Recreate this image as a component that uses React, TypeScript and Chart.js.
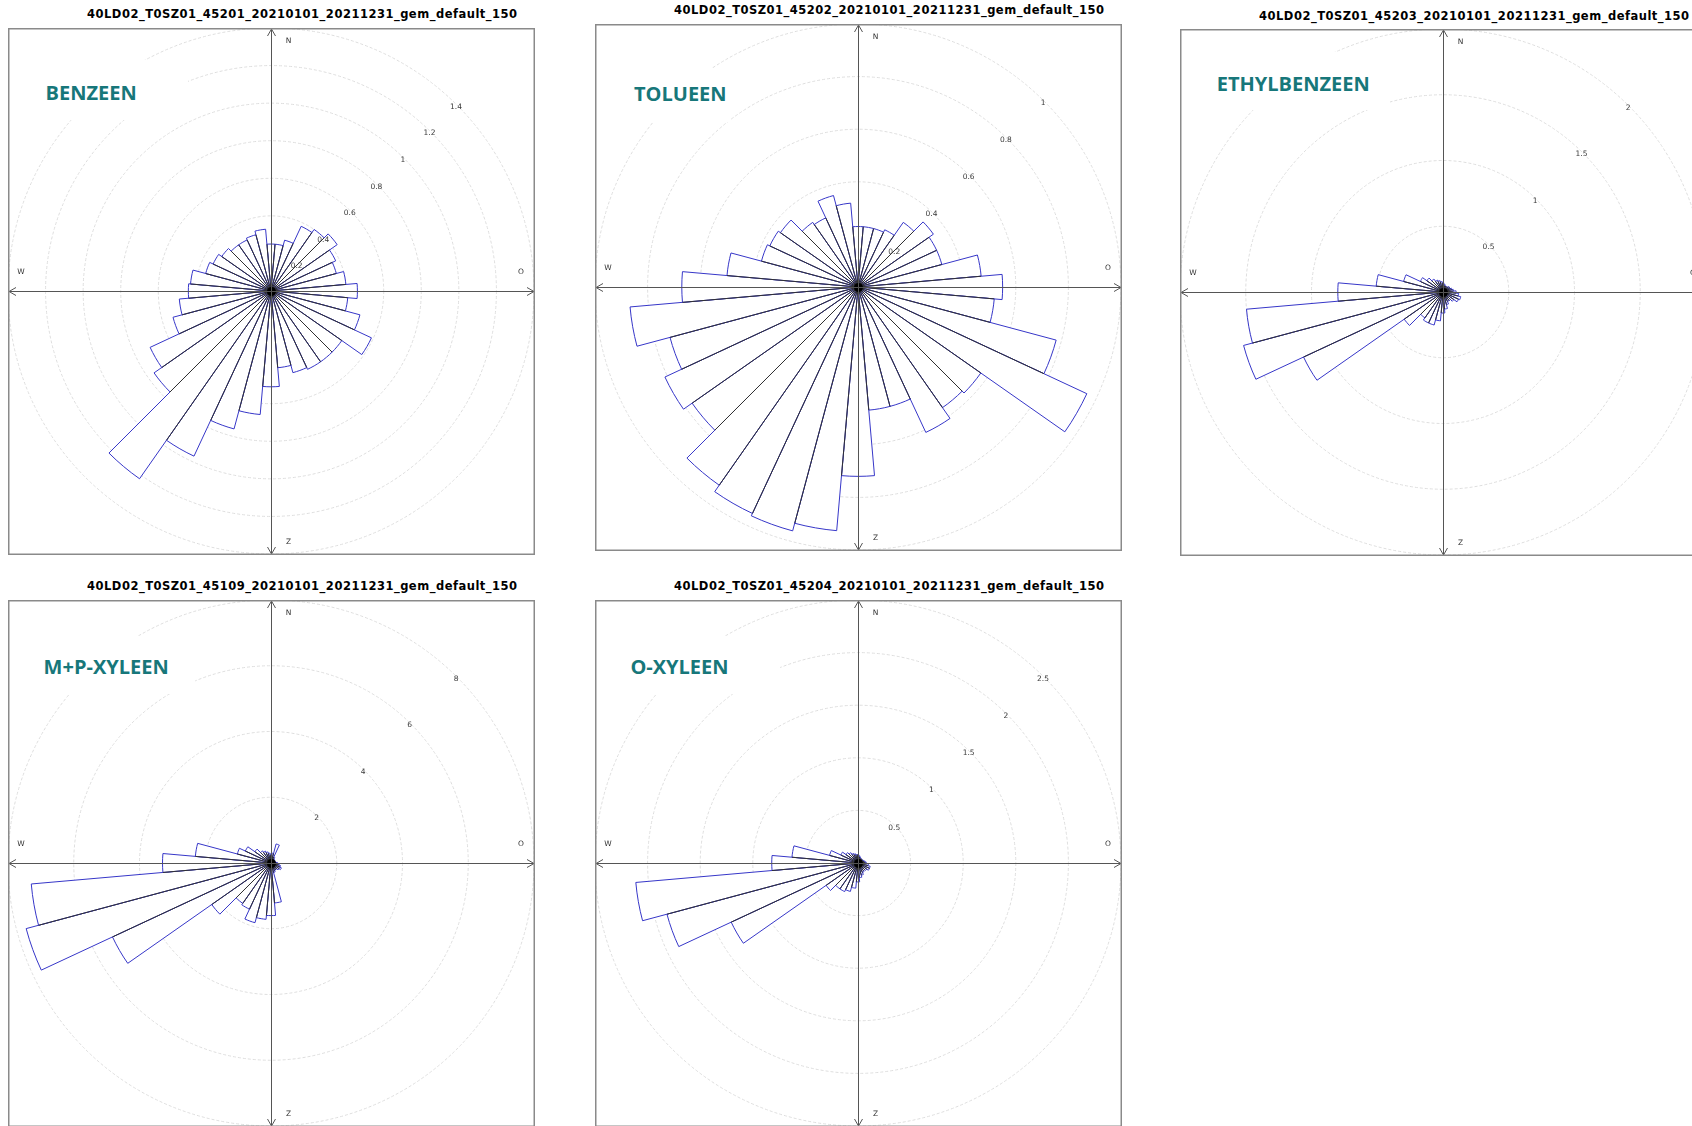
import React, { useEffect, useRef } from 'react';
import { Chart, registerables } from 'chart.js';

Chart.register(...registerables);

// Wind direction sectors, degrees clockwise from north, each 10° wide
const directions = [
  '0', '10', '20', '30', '40', '50', '60', '70', '80', '90',
  '100', '110', '120', '130', '140', '150', '160', '170', '180', '190',
  '200', '210', '220', '230', '240', '250', '260', '270', '280', '290',
  '300', '310', '320', '330', '340', '350',
];

// Mean concentration per wind sector
const benzeen = [
  0.25, 0.25, 0.28, 0.38, 0.40, 0.43, 0.38, 0.36, 0.40, 0.46,
  0.41, 0.49, 0.59, 0.46, 0.46, 0.46, 0.45, 0.41, 0.51, 0.66,
  0.76, 0.97, 1.22, 0.76, 0.71, 0.54, 0.49, 0.44, 0.43, 0.36,
  0.34, 0.32, 0.30, 0.30, 0.31, 0.33,
];
const tolueen = [
  0.23, 0.23, 0.23, 0.24, 0.30, 0.35, 0.33, 0.33, 0.47, 0.55,
  0.52, 0.78, 0.96, 0.57, 0.56, 0.61, 0.47, 0.47, 0.72, 0.93,
  0.96, 0.95, 0.92, 0.77, 0.81, 0.74, 0.87, 0.67, 0.50, 0.38,
  0.37, 0.36, 0.30, 0.29, 0.36, 0.32,
];
const ethylbenzeen = [
  0.07, 0.06, 0.05, 0.05, 0.05, 0.06, 0.06, 0.07, 0.08, 0.10,
  0.12, 0.14, 0.13, 0.10, 0.08, 0.08, 0.10, 0.13, 0.16, 0.22,
  0.26, 0.26, 0.24, 0.36, 1.17, 1.57, 1.50, 0.80, 0.51, 0.31,
  0.19, 0.15, 0.12, 0.10, 0.09, 0.08,
];
const mpXyleen = [
  0.25, 0.30, 0.60, 0.20, 0.15, 0.12, 0.12, 0.12, 0.15, 0.20,
  0.25, 0.30, 0.35, 0.30, 0.25, 0.25, 0.30, 1.22, 1.60, 1.72,
  1.88, 1.55, 1.50, 2.20, 5.32, 7.71, 7.32, 3.30, 2.31, 1.06,
  0.86, 0.60, 0.45, 0.40, 0.35, 0.30,
];
const oXyleen = [
  0.08, 0.07, 0.06, 0.05, 0.05, 0.05, 0.05, 0.06, 0.07, 0.08,
  0.10, 0.12, 0.12, 0.10, 0.09, 0.10, 0.12, 0.14, 0.18, 0.24,
  0.28, 0.30, 0.30, 0.37, 1.33, 1.88, 2.12, 0.82, 0.63, 0.28,
  0.18, 0.14, 0.12, 0.10, 0.09, 0.08,
];

// Radial ring values (tick labels) per rose; the last one is the outer edge
const benzeenRings = [0.2, 0.4, 0.6, 0.8, 1, 1.2, 1.4];
const tolueenRings = [0.2, 0.4, 0.6, 0.8, 1];
const ethylbenzeenRings = [0.5, 1, 1.5, 2];
const mpXyleenRings = [2, 4, 6, 8];
const oXyleenRings = [0.5, 1, 1.5, 2, 2.5];

// Compass letters (Dutch: Noord, Oost, Zuid, West)
const compass = { n: 'N', e: 'O', s: 'Z', w: 'W' };

const BOX = 527;

type Panel = {
  title: string;
  name: string;
  values: number[];
  rings: number[];
  left: number;
  top: number;
  titleLeft: number;
  titleTop: number;
  nameLeft: number;
  nameCapTop: number;
  mask: { x: number; y: number; w: number; h: number };
};

const panels: Panel[] = [
  {
    title: '40LD02_T0SZ01_45201_20210101_20211231_gem_default_150',
    name: 'BENZEEN', values: benzeen, rings: benzeenRings,
    left: 8, top: 28, titleLeft: 87, titleTop: 8.3,
    nameLeft: 45.6, nameCapTop: 86.4, mask: { x: 18, y: 60, w: 170, h: 60 },
  },
  {
    title: '40LD02_T0SZ01_45202_20210101_20211231_gem_default_150',
    name: 'TOLUEEN', values: tolueen, rings: tolueenRings,
    left: 595, top: 24, titleLeft: 674, titleTop: 3.5,
    nameLeft: 634, nameCapTop: 87.4, mask: { x: 610, y: 68, w: 120, h: 54 },
  },
  {
    title: '40LD02_T0SZ01_45203_20210101_20211231_gem_default_150',
    name: 'ETHYLBENZEEN', values: ethylbenzeen, rings: ethylbenzeenRings,
    left: 1180, top: 29, titleLeft: 1259, titleTop: 10,
    nameLeft: 1216.7, nameCapTop: 77.5, mask: { x: 1200, y: 52, w: 190, h: 58 },
  },
  {
    title: '40LD02_T0SZ01_45109_20210101_20211231_gem_default_150',
    name: 'M+P-XYLEEN', values: mpXyleen, rings: mpXyleenRings,
    left: 8, top: 600, titleLeft: 87, titleTop: 580.2,
    nameLeft: 43.6, nameCapTop: 660, mask: { x: 25, y: 636, w: 170, h: 58 },
  },
  {
    title: '40LD02_T0SZ01_45204_20210101_20211231_gem_default_150',
    name: 'O-XYLEEN', values: oXyleen, rings: oXyleenRings,
    left: 595, top: 600, titleLeft: 674, titleTop: 580.2,
    nameLeft: 630.4, nameCapTop: 660.2, mask: { x: 612, y: 636, w: 168, h: 58 },
  },
];

// Draws spokes, hub, compass axes, frame and ring labels on top of the sectors
const roseDecor = {
  id: 'roseDecor',
  afterDatasetsDraw(chart: any, _args: any, opts: any) {
    const ctx: CanvasRenderingContext2D = chart.ctx;
    const r = chart.scales.r;
    const cx = r.xCenter;
    const cy = r.yCenter;
    const W = chart.width;
    const H = chart.height;
    const vals = chart.data.datasets[0].data as number[];
    const n = vals.length;

    ctx.save();

    // radial sector boundaries, drawn up to the shorter neighbour
    ctx.strokeStyle = '#303030';
    ctx.lineWidth = 1;
    for (let k = 0; k < n; k++) {
      const v = Math.min(vals[k], vals[(k + n - 1) % n]);
      const p = r.getPointPositionForValue(k, v);
      ctx.beginPath();
      ctx.moveTo(cx, cy);
      ctx.lineTo(p.x, p.y);
      ctx.stroke();
    }

    // hub
    ctx.fillStyle = '#000';
    ctx.beginPath();
    ctx.arc(cx + 0.5, cy + 0.5, 4.5, 0, Math.PI * 2);
    ctx.fill();

    // compass axes
    const ax = cx + 0.5;
    const ay = cy + 0.5;
    ctx.strokeStyle = '#555';
    ctx.lineWidth = 1;
    ctx.beginPath();
    ctx.moveTo(0, ay); ctx.lineTo(W, ay);
    ctx.moveTo(ax, 0); ctx.lineTo(ax, H);
    // arrow heads
    const a = 7, b = 4;
    ctx.moveTo(1 + a, ay - b); ctx.lineTo(1, ay); ctx.lineTo(1 + a, ay + b);
    ctx.moveTo(W - 1 - a, ay - b); ctx.lineTo(W - 1, ay); ctx.lineTo(W - 1 - a, ay + b);
    ctx.moveTo(ax - b, 1 + a); ctx.lineTo(ax, 1); ctx.lineTo(ax + b, 1 + a);
    ctx.moveTo(ax - b, H - 1 - a); ctx.lineTo(ax, H - 1); ctx.lineTo(ax + b, H - 1 - a);
    ctx.stroke();

    // frame
    ctx.strokeStyle = '#8a8a8a';
    ctx.lineWidth = 1.5;
    ctx.strokeRect(0.75, 0.75, W - 1.5, H - 1.5);

    // compass letters
    ctx.fillStyle = '#333';
    ctx.font = '7.5px "DejaVu Sans", sans-serif';
    ctx.textAlign = 'center';
    ctx.textBaseline = 'middle';
    ctx.fillText(compass.n, ax + 17, 13);
    ctx.fillText(compass.s, ax + 17, H - 13);
    ctx.fillText(compass.w, 13, ay - 19);
    ctx.fillText(compass.e, W - 14, ay - 19);

    // ring labels along the north-east diagonal
    ctx.fillStyle = '#3a3a3a';
    for (const v of opts.rings as number[]) {
      const d = r.getDistanceFromCenterForValue(v) - 2;
      ctx.fillText(String(v), ax + d * Math.SQRT1_2, ay - d * Math.SQRT1_2);
    }

    ctx.restore();
  },
};

function RosePanel({ p }: { p: Panel }) {
  const ref = useRef<HTMLCanvasElement>(null);

  useEffect(() => {
    if (!ref.current) return;
    const chart = new Chart(ref.current, {
      type: 'polarArea',
      data: {
        labels: directions,
        datasets: [
          {
            data: p.values,
            backgroundColor: '#ffffff',
            borderColor: '#3636c8',
            borderWidth: 1,
          },
        ],
      },
      options: {
        responsive: false,
        animation: false,
        devicePixelRatio: 1,
        layout: { padding: 0 },
        plugins: {
          legend: { display: false },
          tooltip: { enabled: false },
          roseDecor: { rings: p.rings },
        } as any,
        scales: {
          r: {
            min: 0,
            max: p.rings[p.rings.length - 1],
            startAngle: -5,
            ticks: { display: false, stepSize: p.rings[0] },
            grid: { color: '#dedede', lineWidth: 1, circular: true },
            border: { dash: [3, 2] },
            angleLines: { display: false },
            pointLabels: { display: false },
          } as any,
        },
      },
      plugins: [roseDecor as any],
    });
    return () => chart.destroy();
  }, [p]);

  return (
    <>
      <canvas
        ref={ref}
        width={BOX}
        height={BOX}
        style={{ position: 'absolute', left: p.left, top: p.top, width: BOX, height: BOX, display: 'block' }}
      />
      <div
        style={{
          position: 'absolute',
          left: p.titleLeft,
          top: p.titleTop,
          fontFamily: '"DejaVu Sans", sans-serif',
          fontWeight: 700,
          fontSize: '11.5px',
          lineHeight: '12px',
          letterSpacing: '0.5px',
          color: '#000',
          whiteSpace: 'nowrap',
        }}
      >
        {p.title}
      </div>
      <div
        style={{
          position: 'absolute',
          left: p.mask.x,
          top: p.mask.y,
          width: p.mask.w,
          height: p.mask.h,
          background: '#fff',
        }}
      >
        <span
          style={{
            position: 'absolute',
            left: p.nameLeft - p.mask.x,
            top: p.nameCapTop - 3.5 - p.mask.y,
            fontFamily: '"Open Sans", "Noto Sans", sans-serif',
            fontWeight: 700,
            fontSize: '20px',
            lineHeight: '20px',
            color: '#17777a',
            whiteSpace: 'nowrap',
          }}
        >
          {p.name}
        </span>
      </div>
    </>
  );
}

export default function App() {
  return (
    <div
      style={{
        position: 'fixed',
        left: 0,
        top: 0,
        width: 1692,
        height: 1126,
        overflow: 'hidden',
        background: '#fff',
      }}
    >
      {panels.map((p) => (
        <RosePanel key={p.title} p={p} />
      ))}
    </div>
  );
}
